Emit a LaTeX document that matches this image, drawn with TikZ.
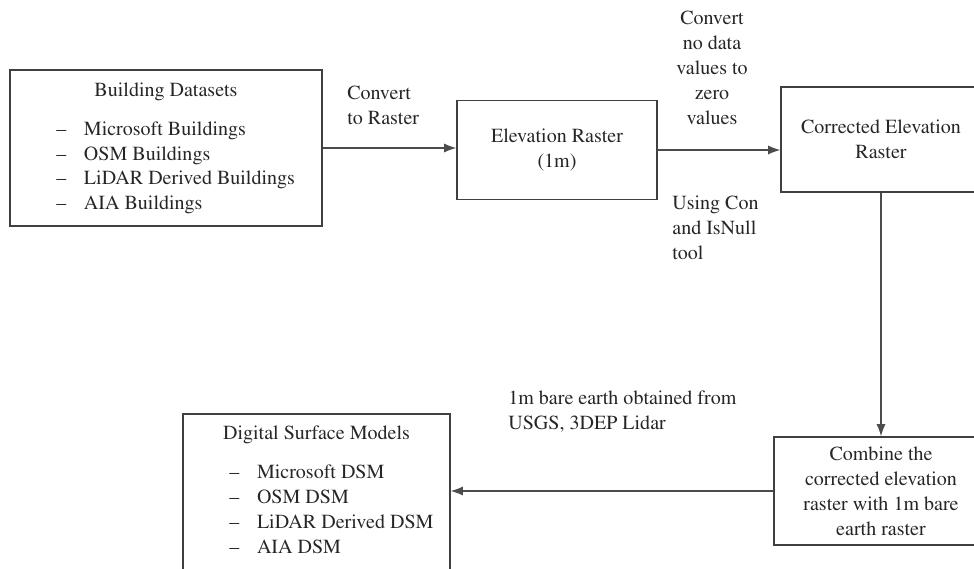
\documentclass[tikz,border=0pt]{standalone}
\usepackage[T1]{fontenc}
\usepackage{times}
\usetikzlibrary{arrows.meta}
\begin{document}
\begin{tikzpicture}[
    font=\fontsize{11.4}{14.2}\selectfont,
    box/.style={draw=black!75, line width=0.9pt, inner xsep=2pt, inner ysep=4.8pt, text=black!85},
    flow/.style={-{Latex[length=2.4mm,width=1.8mm]}, line width=0.6pt, black!70},
    note/.style={text=black!85, inner sep=0pt}
]
        \useasboundingbox (0,0) rectangle (19.48,-11.38);
        \clip (0,0) rectangle (19.48,-11.38);

        % boxes
        \node[box, minimum width=6.24cm, minimum height=3.12cm] (bld) at (3.32,-2.96) {\begin{tabular}{@{\hspace{11pt}}c@{\hspace{10pt}}l@{}}
            \multicolumn{2}{@{}c@{}}{Building Datasets}\\[8pt]
            -- & Microsoft Buildings\\
            -- & OSM Buildings\\
            -- & LiDAR Derived Buildings\\
            -- & AIA Buildings
        \end{tabular}};
        \node[box, minimum width=4cm, minimum height=1.98cm, align=center] (elev) at (11.14,-3.0) {Elevation Raster\\(1m)};
        \node[box, minimum width=4cm, minimum height=2.1cm, align=center] (corr) at (17.62,-2.79) {Corrected Elevation\\Raster};
        \node[box, minimum width=4.28cm, minimum height=2.16cm, align=center] (comb) at (17.62,-9.82) {Combine the\\corrected elevation\\raster with 1m bare\\earth raster};
        \node[box, anchor=north, minimum width=5.34cm] (dsm) at (6.33,-8.26) {\begin{tabular}{@{\hspace{17pt}}c@{\hspace{10pt}}l@{}}
            \multicolumn{2}{@{}c@{}}{Digital Surface Models}\\[8pt]
            -- & Microsoft DSM\\
            -- & OSM DSM\\
            -- & LiDAR Derived DSM\\
            -- & AIA DSM
        \end{tabular}};

        % connectors
        \draw[flow] (bld.east) -- (elev.west |- bld.east);
        \draw[flow] (elev.east) -- (elev.east -| corr.west);
        \draw[flow] (corr.south) -- (comb.north);
        \draw[flow] (comb.west) -- (comb.west -| dsm.east);

        % labels
        \node[note, anchor=west, align=left] (toraster) at (6.94,-2.1) {Convert\\to Raster};
        \node[note, align=center] (nodata) at (14.24,-1.35) {Convert\\no data\\values to\\zero\\values};
        \node[note, anchor=west, align=left] (isnull) at (13.44,-4.55) {Using Con\\and IsNull\\tool};
        \node[note, anchor=west, align=left] (bare) at (10.16,-8.23) {1m bare earth obtained from\\USGS, 3DEP Lidar};
    \end{tikzpicture}
\end{document}
